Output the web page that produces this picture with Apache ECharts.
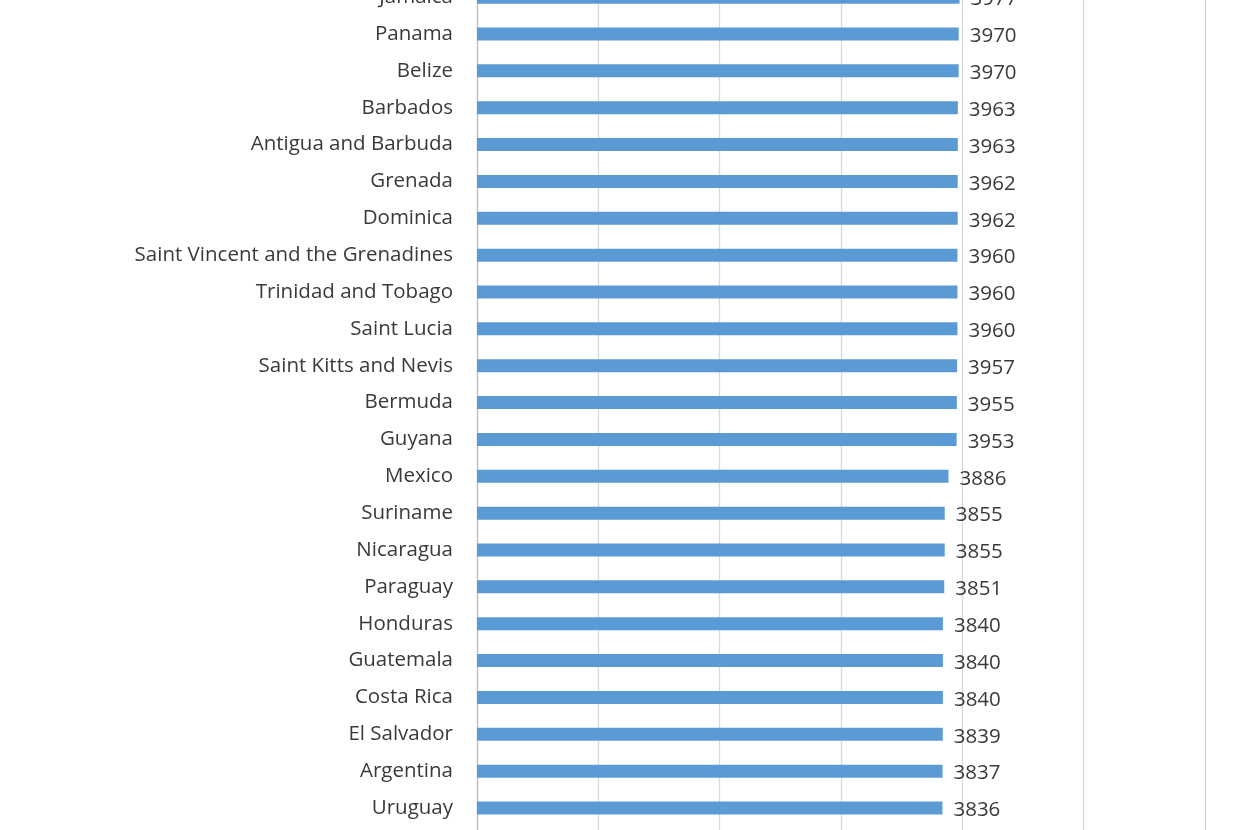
<!DOCTYPE html>
<html><head><meta charset="utf-8">
<script src="https://cdn.jsdelivr.net/npm/echarts@6/dist/echarts.min.js"></script>
<style>
html,body{margin:0;padding:0;width:1250px;height:830px;overflow:hidden;background:#fff;}
#c{position:absolute;left:0;top:-100px;width:1250px;height:1100px;}
</style></head><body>
<div id="c"></div>
<script>
const categories = ["Jamaica","Panama","Belize","Barbados","Antigua and Barbuda","Grenada","Dominica","Saint Vincent and the Grenadines","Trinidad and Tobago","Saint Lucia","Saint Kitts and Nevis","Bermuda","Guyana","Mexico","Suriname","Nicaragua","Paraguay","Honduras","Guatemala","Costa Rica","El Salvador","Argentina","Uruguay","Venezuela, Bol. Rep."];
const values = [3977,3970,3970,3963,3963,3962,3962,3960,3960,3960,3957,3955,3953,3886,3855,3855,3851,3840,3840,3840,3839,3837,3836,3831];
const xTicks = [0,1000,2000,3000,4000,5000,6000];

const chart = echarts.init(document.getElementById('c'));
const font = '"Open Sans", "Liberation Sans", sans-serif';
chart.setOption({
  animation:false,
  grid:{left:477,right:45,top:78.7,height:884.6},
  xAxis:{type:'value',min:xTicks[0],max:xTicks[xTicks.length-1],interval:1000,
    axisLabel:{show:false},axisLine:{show:false},axisTick:{show:false},
    splitLine:{lineStyle:{color:'#d9d9d9',width:1.3}}},
  yAxis:{type:'category',inverse:true,data:categories,
    axisLine:{lineStyle:{color:'#bfbfbf',width:1.3}},axisTick:{show:false},
    axisLabel:{margin:24,color:'#3a3a3a',fontSize:20.5,fontFamily:font,padding:[4,0,0,0]}},
  series:[{type:'bar',data:values,barWidth:13,
    itemStyle:{color:'#5b9bd5'},
    label:{show:true,position:'right',distance:11,color:'#3a3a3a',fontSize:20.5,fontFamily:font,offset:[0,2.5]}}]
});
</script></body></html>
